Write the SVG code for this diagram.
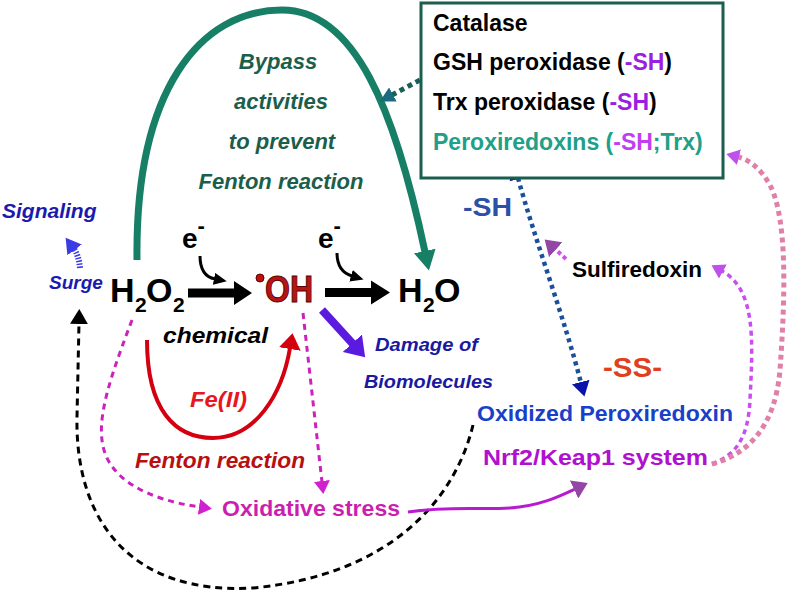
<svg xmlns="http://www.w3.org/2000/svg" width="787" height="592" viewBox="0 0 787 592">
<style>
text{font-family:"Liberation Sans",Arial,Helvetica,sans-serif;font-weight:bold}
.it{font-style:italic}
.nofill{fill:none}
</style>
<defs>
<marker id="mGreen" markerUnits="userSpaceOnUse" markerWidth="22" markerHeight="24" refX="1" refY="12" orient="auto"><path d="M0,1 L20,12 L0,23 z" fill="#177f66"/></marker>
<marker id="mTeal" markerUnits="userSpaceOnUse" markerWidth="16" markerHeight="16" refX="1" refY="8" orient="auto"><path d="M0,0 L15,8 L0,16 z" fill="#1b6a80"/></marker>
<marker id="mBlackS" markerUnits="userSpaceOnUse" markerWidth="14" markerHeight="12" refX="1" refY="6" orient="auto"><path d="M0,0 L13,6 L0,12 z" fill="#000"/></marker>
<marker id="mBlackD" markerUnits="userSpaceOnUse" markerWidth="16" markerHeight="18" refX="1" refY="9" orient="auto"><path d="M0,0 L15,9 L0,18 z" fill="#000"/></marker>
<marker id="mViolet" markerUnits="userSpaceOnUse" markerWidth="20" markerHeight="26" refX="1" refY="13" orient="auto"><path d="M0,0 L19,13 L0,26 z" fill="#5a1ae0"/></marker>
<marker id="mRed" markerUnits="userSpaceOnUse" markerWidth="17" markerHeight="22" refX="1" refY="11" orient="auto"><path d="M0,0 L16,11 L0,22 z" fill="#d40010"/></marker>
<marker id="mMag" markerUnits="userSpaceOnUse" markerWidth="14" markerHeight="16" refX="1" refY="8" orient="auto"><path d="M0,0 L13,8 L0,16 z" fill="#d020d0"/></marker>
<marker id="mBlue" markerUnits="userSpaceOnUse" markerWidth="16" markerHeight="18" refX="1" refY="9" orient="auto-start-reverse"><path d="M0,0 L15,9 L0,18 z" fill="#0a14a8"/></marker>
<marker id="mPurple" markerUnits="userSpaceOnUse" markerWidth="16" markerHeight="20" refX="1" refY="10" orient="auto"><path d="M0,0 L15,10 L0,20 z" fill="#9446a6"/></marker>
<marker id="mLilac" markerUnits="userSpaceOnUse" markerWidth="14" markerHeight="16" refX="1" refY="8" orient="auto"><path d="M0,0 L13,8 L0,16 z" fill="#c050ec"/></marker>
<marker id="mSig" markerUnits="userSpaceOnUse" markerWidth="16" markerHeight="18" refX="1" refY="9" orient="auto"><path d="M0,0 L15,9 L0,18 z" fill="#3a3ae6"/></marker>
</defs>

<g id="connectors">
  <path d="M137,260 C135,90 200,10 282,10 C355,10 395,110 425,252" class="nofill" stroke="#177f66" stroke-width="7" marker-end="url(#mGreen)"/>
  <path d="M420,80 L392,95" stroke="#1a5e58" stroke-width="5" stroke-dasharray="5 4" marker-end="url(#mTeal)"/>
  <path d="M188,288.5 L234,288.5 L234,281 L252,293 L234,305 L234,297.5 L188,297.5 z" fill="#000"/>
  <path d="M325,288 L371,288 L371,280.5 L390,292.5 L371,304.5 L371,297 L325,297 z" fill="#000"/>
  <path d="M200,256 C200,270 205,277 215,279" class="nofill" stroke="#000" stroke-width="3" marker-end="url(#mBlackS)"/>
  <path d="M337,253 C337,265 342,273 352,276" class="nofill" stroke="#000" stroke-width="3" marker-end="url(#mBlackS)"/>
  <path d="M322,310 L353,344" stroke="#5a1ae0" stroke-width="8" marker-end="url(#mViolet)"/>
  <path d="M147,340 C147,410 175,438 213,438 C255,438 282,395 290,348" class="nofill" stroke="#d40010" stroke-width="4" marker-end="url(#mRed)"/>
  <path d="M132,320 C115,365 98,410 102,440 C106,480 150,500 200,507" class="nofill" stroke="#cc22bb" stroke-width="3" stroke-dasharray="6 5" marker-end="url(#mMag)"/>
  <path d="M303,313 L322,482" stroke="#cc22bb" stroke-width="3" stroke-dasharray="6 5" marker-end="url(#mMag)"/>
  <path d="M473,425 C455,500 390,575 253,588 C130,595 75,520 77,417 L79,323" class="nofill" stroke="#000" stroke-width="3" stroke-dasharray="7 5" marker-end="url(#mBlackD)"/>
  <path d="M408,512 C450,506 480,510 510,508 C540,506 560,496 575,489" class="nofill" stroke="#b81ad0" stroke-width="3" marker-end="url(#mPurple)"/>
  <path d="M518,178 C535,240 565,320 581,383" class="nofill" stroke="#1a4f9a" stroke-width="4.5" stroke-dasharray="4 4" marker-start="url(#mBlue)" marker-end="url(#mBlue)"/>
  <path d="M566,259 L555,249" stroke="#d050f0" stroke-width="4" stroke-dasharray="4 3" marker-end="url(#mPurple)"/>
  <path d="M712,464 C735,455 748,440 750,400 C753,340 756,290 722,271" class="nofill" stroke="#c84ef0" stroke-width="3.5" stroke-dasharray="5 4" marker-end="url(#mLilac)"/>
  <path d="M712,464 C745,455 775,430 780,370 C785,300 788,220 770,185 C760,168 750,160 738,157" class="nofill" stroke="#e080a8" stroke-width="5" stroke-dasharray="5 4" marker-end="url(#mLilac)"/>
  <path d="M80,268 C79,259 77,253 74,249" class="nofill" stroke="#3a3ae6" stroke-width="6" stroke-dasharray="1.5 1.5" marker-end="url(#mSig)"/>
</g>

<g id="bypass-label">
  <text x="278" y="69" text-anchor="middle" font-size="22" class="it" fill="#1b5e4a">Bypass</text>
  <text x="281" y="109" text-anchor="middle" font-size="22" class="it" fill="#1b5e4a">activities</text>
  <text x="282" y="149" text-anchor="middle" font-size="22" class="it" fill="#1b5e4a">to prevent</text>
  <text x="281" y="189" text-anchor="middle" font-size="22" class="it" fill="#1b5e4a">Fenton reaction</text>
</g>

<g id="enzymes">
  <rect x="421" y="3" width="302" height="175" fill="#fff" stroke="#1a5e50" stroke-width="3"/>
  <text x="433" y="31" font-size="23" fill="#000">Catalase</text>
  <text x="433" y="70" font-size="23" fill="#000">GSH peroxidase (<tspan fill="#9b1fe0">-SH</tspan>)</text>
  <text x="433" y="110" font-size="23" fill="#000">Trx peroxidase (<tspan fill="#9b1fe0">-SH</tspan>)</text>
  <text x="433" y="150" font-size="23" fill="#20a088">Peroxiredoxins (<tspan fill="#c040f0">-SH</tspan>;Trx)</text>
</g>

<g id="signaling">
  <text x="2" y="218" font-size="21" class="it" fill="#1a1ab0">Signaling</text>
  <text x="49" y="289" font-size="19" class="it" fill="#1a1ab0">Surge</text>
</g>

<g id="h2o2">
  <text x="110" y="302" font-size="34" fill="#000">H<tspan x="135" y="312" font-size="21">2</tspan><tspan x="146" y="302">O</tspan><tspan x="173" y="312" font-size="21">2</tspan></text>
</g>

<g id="electron1">
  <text x="182" y="248" font-size="28" fill="#000">e<tspan dy="-15" font-size="22">-</tspan></text>
</g>
<g id="electron2">
  <text x="318" y="248" font-size="28" fill="#000">e<tspan dy="-15" font-size="22">-</tspan></text>
</g>

<g id="oh">
  <circle cx="260" cy="278" r="4" fill="#c01010" stroke="#600000" stroke-width="1"/>
  <text x="265" y="302" font-size="36" textLength="48" lengthAdjust="spacingAndGlyphs" fill="#b81414" stroke="#5a0000" stroke-width="1">OH</text>
</g>

<g id="h2o">
  <text x="398" y="302" font-size="34" fill="#000">H<tspan x="423" y="312" font-size="21">2</tspan><tspan x="434" y="302">O</tspan></text>
</g>

<g id="chemical"><text x="163" y="343" font-size="22" textLength="105" lengthAdjust="spacingAndGlyphs" class="it" fill="#000">chemical</text></g>
<g id="fe"><text x="190" y="407" font-size="22" textLength="57" lengthAdjust="spacingAndGlyphs" class="it" fill="#e8161e">Fe(II)</text></g>
<g id="fenton"><text x="135" y="468" font-size="22" textLength="170" lengthAdjust="spacingAndGlyphs" class="it" fill="#b81010">Fenton reaction</text></g>

<g id="damage">
  <text x="375" y="351" font-size="19" textLength="103" lengthAdjust="spacingAndGlyphs" class="it" fill="#1a1aa0">Damage of</text>
  <text x="364" y="388" font-size="19" textLength="129" lengthAdjust="spacingAndGlyphs" class="it" fill="#1a1aa0">Biomolecules</text>
</g>

<g id="oxstress"><text x="222" y="516" font-size="22" textLength="178" lengthAdjust="spacingAndGlyphs" fill="#cc1fb0">Oxidative stress</text></g>

<g id="sh"><text x="463" y="216" font-size="25" textLength="49" lengthAdjust="spacingAndGlyphs" fill="#2a50a8">-SH</text></g>
<g id="sulfiredoxin"><text x="572" y="277" font-size="22" textLength="130" lengthAdjust="spacingAndGlyphs" fill="#000">Sulfiredoxin</text></g>
<g id="ss"><text x="603" y="377" font-size="28" textLength="59" lengthAdjust="spacingAndGlyphs" fill="#e04020">-SS-</text></g>
<g id="oxprx"><text x="477" y="421" font-size="22" textLength="256" lengthAdjust="spacingAndGlyphs" fill="#1a3fc8">Oxidized Peroxiredoxin</text></g>
<g id="nrf2"><text x="483" y="465" font-size="22" textLength="225" lengthAdjust="spacingAndGlyphs" fill="#b010d0">Nrf2/Keap1 system</text></g>
</svg>
